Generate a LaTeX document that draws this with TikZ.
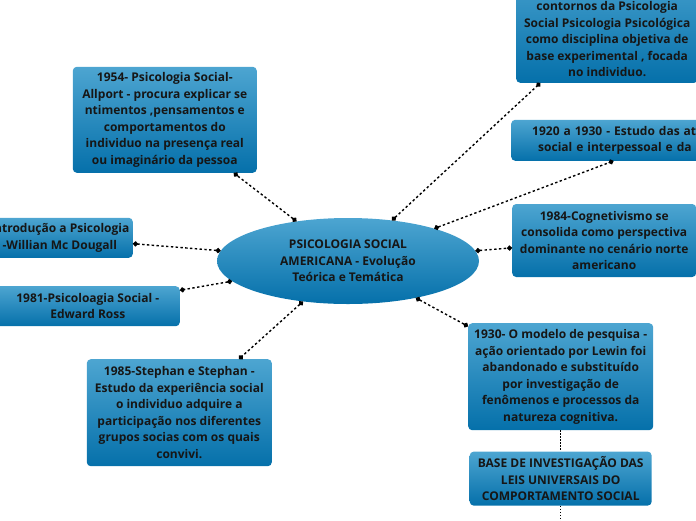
\documentclass[tikz,border=0pt]{standalone}
\usepackage{fontspec}
\setmainfont{Open Sans}
\usetikzlibrary{positioning,arrows.meta,shapes.geometric}
\definecolor{boxtop}{HTML}{4DA5D1}
\definecolor{boxbot}{HTML}{0570AA}
\definecolor{ink}{HTML}{161616}
\tikzset{
  topic/.style={rectangle,rounded corners=4pt,top color=boxtop,bottom color=boxbot,text=ink,
    font=\bfseries\fontsize{12}{16.5}\selectfont,align=center,inner sep=0pt},
  hub/.style={ellipse,top color=boxtop,bottom color=boxbot,text=ink,
    font=\bfseries\fontsize{12}{16.5}\selectfont,align=center,inner sep=0pt,
    minimum width=262pt,minimum height=86pt},
  link/.style={{Circle[length=5pt]}-{Circle[length=5pt]},line width=1.4pt,dash pattern=on 2.4pt off 2.4pt},
  thread/.style={line width=1.2pt,dash pattern=on 1.5pt off 1.5pt}
}
\begin{document}
\begin{tikzpicture}[x=1pt,y=1pt]
\useasboundingbox (0,0) rectangle (696,-520);
\clip (0,0) rectangle (696,-520);
\node[hub] (rt) at (348,-261) {PSICOLOGIA SOCIAL\\AMERICANA - Evolução\\Teórica e Temática};
% left side
\node[topic,minimum width=184pt,minimum height=106pt,above left=88pt and 91pt of rt.center] (allp)
  {1954- Psicologia Social-\\Allport - procura explicar se\\ntimentos ,pensamentos e\\comportamentos do\\individuo na presença real\\ou imaginário da pessoa};
\node[topic,minimum width=146pt,minimum height=40pt,above left=3pt and 215pt of rt.center] (mcd)
  {Introdução a Psicologia\\-Willian Mc Dougall};
\node[topic,minimum width=184pt,minimum height=40pt,below left=25pt and 168pt of rt.center] (ross)
  {1981-Psicoloagia Social -\\Edward Ross};
\node[topic,minimum width=185pt,minimum height=107pt,below left=98pt and 76pt of rt.center] (steph)
  {1985-Stephan e Stephan -\\Estudo da experiência social\\o individuo adquire a\\participação nos diferentes\\grupos socias com os quais\\convivi.};
% right side
\node[topic,minimum width=182pt,minimum height=124pt,text height=112pt,above right=178pt and 168pt of rt.center] (cont)
  {contornos da Psicologia\\Social Psicologia Psicológica\\como disciplina objetiva de\\base experimental , focada\\no individuo.};
\node[topic,minimum height=41pt,text width=272pt,inner xsep=21pt,align=left,above right=100pt and 163pt of rt.center] (atit)
  {1920 a 1930 - Estudo das atit\\\hspace*{6pt}social e interpessoal e da d};
\node[topic,minimum width=184pt,minimum height=73pt,right=164pt of rt.center,yshift=20.5pt] (cogn)
  {1984-Cognetivismo se\\consolida como perspectiva\\dominante no cenário norte\\americano};
\node[topic,minimum width=185pt,minimum height=107pt,below right=62pt and 120pt of rt.center] (lewin)
  {1930- O modelo de pesquisa -\\ação orientado por Lewin foi\\abandonado e substituído\\por investigação de\\fenômenos e processos da\\natureza cognitiva.};
\node[topic,minimum width=182pt,minimum height=54pt,below=21pt of lewin] (leis)
  {BASE DE INVESTIGAÇÃO DAS\\LEIS UNIVERSAIS DO\\COMPORTAMENTO SOCIAL};
\coordinate[below=30pt of leis] (tail);
% links
\draw[link] (rt)--(allp); \draw[link] (rt)--(mcd); \draw[link] (rt)--(ross); \draw[link] (rt)--(steph);
\draw[link] (rt)--(cont); \draw[link] (rt)--(atit); \draw[link] (rt)--(cogn); \draw[link] (rt)--(lewin);
\draw[thread] (lewin)--(leis); \draw[thread] (leis)--(tail);
\end{tikzpicture}
\end{document}
